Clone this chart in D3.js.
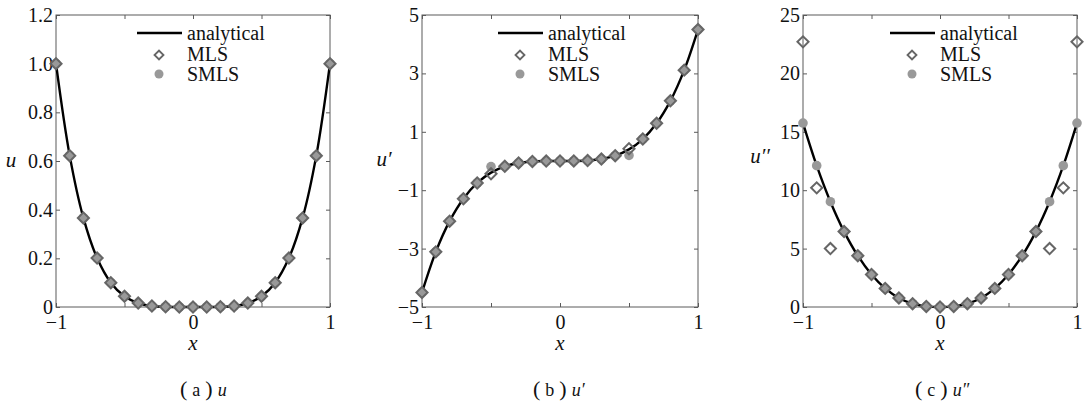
<!DOCTYPE html>
<html>
<head>
<meta charset="utf-8">
<script src="https://cdn.jsdelivr.net/npm/d3@7"></script>
<style>
  body { margin: 0; background: #fff; }
  svg text { font-family: "Liberation Serif", "Times New Roman", "DejaVu Serif", serif; fill: #111; }
  .tick text { font-size: 20px; }
  .legend text { font-size: 20px; }
  .axis-title { font-size: 21px; font-style: italic; }
  .caption { font-size: 18px; }
</style>
</head>
<body>
<svg id="chart" width="1090" height="403"></svg>
<script>
// sample points (x)
const xValues = [-1, -0.9, -0.8, -0.7, -0.6, -0.5, -0.4, -0.3, -0.2, -0.1, 0,
                 0.1, 0.2, 0.3, 0.4, 0.5, 0.6, 0.7, 0.8, 0.9, 1];

// (a) u
const uAnalytical = [1, 0.622, 0.366, 0.201, 0.100, 0.044, 0.016, 0.004, 0.001, 0.000, 0,
                     0.000, 0.001, 0.004, 0.016, 0.044, 0.100, 0.201, 0.366, 0.622, 1];
const uMLS  = [1, 0.622, 0.366, 0.201, 0.100, 0.044, 0.016, 0.004, 0.001, 0.000, 0,
               0.000, 0.001, 0.004, 0.016, 0.044, 0.100, 0.201, 0.366, 0.622, 1];
const uSMLS = [1, 0.622, 0.366, 0.201, 0.100, 0.044, 0.016, 0.004, 0.001, 0.000, 0,
               0.000, 0.001, 0.004, 0.016, 0.044, 0.100, 0.201, 0.366, 0.622, 1];

// (b) u'
const duAnalytical = [-4.5, -3.112, -2.061, -1.292, -0.753, -0.398, -0.182, -0.067, -0.016, -0.001, 0,
                      0.001, 0.016, 0.067, 0.182, 0.398, 0.753, 1.292, 2.061, 3.112, 4.5];
const duMLS  = [-4.5, -3.112, -2.061, -1.292, -0.753, -0.44, -0.182, -0.067, -0.016, -0.001, 0,
                0.001, 0.016, 0.067, 0.182, 0.42, 0.753, 1.292, 2.061, 3.112, 4.5];
const duSMLS = [-4.5, -3.112, -2.061, -1.292, -0.753, -0.19, -0.182, -0.067, -0.016, -0.001, 0,
                0.001, 0.016, 0.067, 0.182, 0.19, 0.753, 1.292, 2.061, 3.112, 4.5];

// (c) u''
const ddAnalytical = [15.75, 12.10, 9.016, 6.457, 4.392, 2.784, 1.594, 0.776, 0.282, 0.050, 0,
                      0.050, 0.282, 0.776, 1.594, 2.784, 4.392, 6.457, 9.016, 12.10, 15.75];
const ddMLS  = [22.7, 10.2, 5.0, 6.457, 4.392, 2.784, 1.594, 0.776, 0.282, 0.050, 0,
                0.050, 0.282, 0.776, 1.594, 2.784, 4.392, 6.457, 5.0, 10.2, 22.7];
const ddSMLS = [15.75, 12.10, 9.016, 6.457, 4.392, 2.784, 1.594, 0.776, 0.282, 0.050, 0,
                0.050, 0.282, 0.776, 1.594, 2.784, 4.392, 6.457, 9.016, 12.10, 15.75];

// ticks
const xTicks = [-1, -0.5, 0, 0.5, 1];
const xTickLabels = [-1, 0, 1];
const uTicks = [0, 0.2, 0.4, 0.6, 0.8, 1.0, 1.2];
const duTicks = [-5, -3, -1, 1, 3, 5];
const ddTicks = [0, 5, 10, 15, 20, 25];

const legendLabels = ["analytical", "MLS", "SMLS"];

const panels = [
  { left: 56,  right: 330,  top: 15, bottom: 307, domain: [0, 1.2], ticks: uTicks,
    fmt: d => d === 0 ? "0" : d3.format(".1f")(d),
    exact: uAnalytical, mls: uMLS, smls: uSMLS,
    ylabel: "u", ylabelX: 11, ylabelY: 167, legendDx: 81,
    capX: 180, capLetter: "a", capVar: "u" },
  { left: 422, right: 698,  top: 15, bottom: 307, domain: [-5, 5], ticks: duTicks,
    fmt: d3.format("d"),
    exact: duAnalytical, mls: duMLS, smls: duSMLS,
    ylabel: "u\u2032", ylabelX: 384, ylabelY: 166, legendDx: 76,
    capX: 533, capLetter: "b", capVar: "u\u2032" },
  { left: 803, right: 1077, top: 15, bottom: 307, domain: [0, 25], ticks: ddTicks,
    fmt: d3.format("d"),
    exact: ddAnalytical, mls: ddMLS, smls: ddSMLS,
    ylabel: "u\u2032\u2032", ylabelX: 760, ylabelY: 163, legendDx: 87,
    capX: 915, capLetter: "c", capVar: "u\u2033" }
];

const axisColor = "#5a5a5a";
const diamondColor = "#666";
const circleColor = "#999";

const svg = d3.select("#chart");

const diamond = d3.symbol().type(d3.symbolSquare).size(62);

function drawPanel(p) {
  const x = d3.scaleLinear().domain([-1, 1]).range([p.left, p.right]);
  const y = d3.scaleLinear().domain(p.domain).range([p.bottom, p.top]);
  const g = svg.append("g");

  // axes, ticks pointing inward
  const cleanAxis = a => {
    a.select(".domain").remove();
    a.attr("font-size", null).attr("font-family", null).attr("color", axisColor);
  };

  g.append("g")
    .attr("transform", `translate(0,${p.bottom})`)
    .call(d3.axisBottom(x).tickValues(xTicks).tickSize(-4).tickPadding(8)
      .tickFormat(d => xTickLabels.includes(d) ? d3.format("d")(d) : ""))
    .call(cleanAxis);

  g.append("g")
    .attr("transform", `translate(0,${p.top})`)
    .call(d3.axisTop(x).tickValues(xTicks).tickSize(-4).tickFormat(""))
    .call(cleanAxis);

  g.append("g")
    .attr("transform", `translate(${p.left},0)`)
    .call(d3.axisLeft(y).tickValues(p.ticks).tickSize(-4).tickPadding(3).tickFormat(p.fmt))
    .call(cleanAxis);

  g.append("g")
    .attr("transform", `translate(${p.right},0)`)
    .call(d3.axisRight(y).tickValues(p.ticks).tickSize(-4).tickFormat(""))
    .call(cleanAxis);

  g.append("rect")
    .attr("x", p.left).attr("y", p.top)
    .attr("width", p.right - p.left).attr("height", p.bottom - p.top)
    .attr("fill", "none").attr("stroke", axisColor).attr("stroke-width", 1);

  // analytical curve
  const line = d3.line()
    .x((d, i) => x(xValues[i]))
    .y(d => y(d))
    .curve(d3.curveCatmullRom);

  g.append("path")
    .datum(p.exact)
    .attr("d", line)
    .attr("fill", "none")
    .attr("stroke", "#000")
    .attr("stroke-width", 2.4);

  // SMLS circles
  g.selectAll(".smls")
    .data(p.smls)
    .join("circle")
    .attr("class", "smls")
    .attr("cx", (d, i) => x(xValues[i]))
    .attr("cy", d => y(d))
    .attr("r", 4.8)
    .attr("fill", circleColor);

  // MLS diamonds
  g.selectAll(".mls")
    .data(p.mls)
    .join("path")
    .attr("class", "mls")
    .attr("d", diamond)
    .attr("transform", (d, i) => `translate(${x(xValues[i])},${y(d)}) rotate(45)`)
    .attr("fill", "none")
    .attr("stroke", diamondColor)
    .attr("stroke-width", 2);

  // legend
  const lg = g.append("g").attr("class", "legend")
    .attr("transform", `translate(${p.left + p.legendDx},0)`);
  lg.append("line")
    .attr("x1", 0).attr("x2", 45).attr("y1", 33).attr("y2", 33)
    .attr("stroke", "#000").attr("stroke-width", 2.4);
  lg.append("path")
    .attr("d", diamond)
    .attr("transform", "translate(22,55) rotate(45) scale(0.8)")
    .attr("fill", "none").attr("stroke", diamondColor).attr("stroke-width", 2.4);
  lg.append("circle")
    .attr("cx", 22).attr("cy", 74).attr("r", 4.5)
    .attr("fill", circleColor);
  lg.selectAll("text")
    .data(legendLabels)
    .join("text")
    .attr("x", 50)
    .attr("y", (d, i) => [40, 61, 81][i])
    .text(d => d);

  // axis titles
  g.append("text")
    .attr("class", "axis-title")
    .attr("x", (p.left + p.right) / 2)
    .attr("y", 350)
    .attr("text-anchor", "middle")
    .text("x");

  g.append("text")
    .attr("class", "axis-title")
    .attr("x", p.ylabelX)
    .attr("y", p.ylabelY)
    .attr("text-anchor", "middle")
    .text(p.ylabel);

  // caption: tall parentheses, letter, variable
  const cap = g.append("text")
    .attr("class", "caption")
    .attr("x", p.capX)
    .attr("y", 396);
  cap.append("tspan").attr("font-size", 22).text("(");
  cap.append("tspan").attr("dx", 5).text(p.capLetter);
  cap.append("tspan").attr("dx", 5).attr("font-size", 22).text(")");
  cap.append("tspan").attr("dx", 5).attr("font-style", "italic").text(p.capVar);
}

panels.forEach(drawPanel);
</script>
</body>
</html>
